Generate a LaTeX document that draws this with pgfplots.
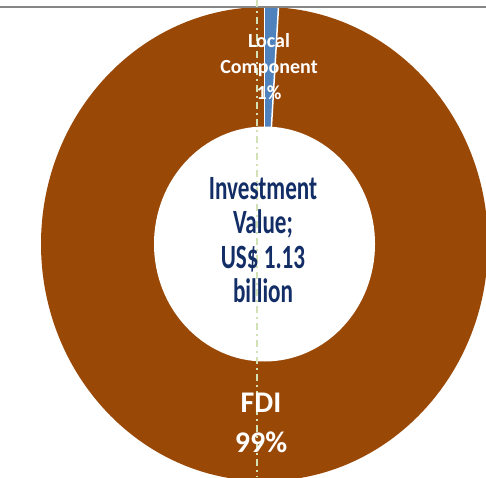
\documentclass[border=0pt]{standalone}
\usepackage{pgfplots}
\pgfplotsset{compat=1.18}
\usepackage{fontspec}
\setmainfont{Carlito}
\newfontfamily\condfont[FakeStretch=0.68]{Carlito}
\definecolor{fdibrown}{HTML}{9A4806}
\definecolor{locblue}{HTML}{4F81BD}
\definecolor{navytxt}{HTML}{132E67}
\definecolor{gridgreen}{HTML}{D3E2B6}
\definecolor{topgray}{HTML}{858585}
\begin{document}
\begin{tikzpicture}
\useasboundingbox (0,0) rectangle (486pt,477pt);
\clip (0,0) rectangle (486pt,477pt);
\begin{axis}[
  scale only axis, width=486pt, height=477pt,
  xmin=0, xmax=486, ymin=0, ymax=477,
  hide axis, clip=true]
% values (percent)
\pgfmathsetmacro{\fdi}{99}
\pgfmathsetmacro{\loc}{1}
\pgfmathsetmacro{\aL}{90-360*\loc/100}
% donut: FDI (full), local component sector
\fill[fdibrown] (264.5,233) ellipse [x radius=223.5pt, y radius=237pt];
\fill[locblue] (264.5,233) -- +(90:223.5pt and 237pt)
   arc[start angle=90, end angle=\aL, x radius=223.5pt, y radius=237pt] -- cycle;
\draw[white, line width=1.5pt] (264.5,233) -- +(90:230pt and 245pt);
\draw[white, line width=1.5pt] (264.5,233) -- +(\aL:230pt and 245pt);
\fill[white] (264.5,233) ellipse [x radius=110.5pt, y radius=117.5pt];
% top rule and gridline
\draw[topgray, line width=2pt] (0,470) -- (486,470);
\draw[gridgreen, line width=1.3pt, dash pattern=on 7pt off 4pt on 2pt off 4pt] (257,477) -- (257,0);
% labels
\node[text=white, font=\fontsize{20}{26}\selectfont\bfseries, align=center] at (269,410) {Local\\Component\\1\%};
\node[text=navytxt, font=\condfont\fontsize{34}{34.5}\selectfont\bfseries, align=center] at (263,237) {Investment\\Value;\\US\$ 1.13\\billion};
\node[text=white, font=\fontsize{30}{40}\selectfont\bfseries, align=center] at (261,54) {FDI\\99\%};
\end{axis}
\end{tikzpicture}
\end{document}
